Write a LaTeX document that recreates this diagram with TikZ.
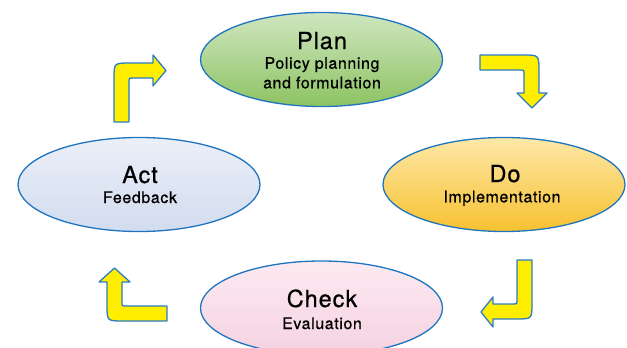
\documentclass[tikz,border=0pt]{standalone}
\usepackage{fontspec}
\setmainfont{TeX Gyre Heros}
\newfontfamily\titlefont[FakeBold=0.6,LetterSpace=4]{TeX Gyre Heros}
\newfontfamily\subfont[FakeBold=0.7,LetterSpace=4]{TeX Gyre Heros}
\usetikzlibrary{shapes.geometric}
\definecolor{edgeblue}{HTML}{1F74C0}
\definecolor{arrowblue}{HTML}{2C7CC6}
\definecolor{arrowyellow}{HTML}{FFEE00}
\definecolor{planTop}{HTML}{CFE6C0}
\definecolor{planBot}{HTML}{8DC363}
\definecolor{doTop}{HTML}{FDE8A8}
\definecolor{doBot}{HTML}{F7C130}
\definecolor{actTop}{HTML}{EBEFF8}
\definecolor{actBot}{HTML}{D2DCEF}
\definecolor{checkTop}{HTML}{FCEAF1}
\definecolor{checkBot}{HTML}{F5D2E1}
\begin{document}
\begin{tikzpicture}[x=1pt,y=-1pt,
  phase/.style={ellipse,draw=edgeblue,line width=1.3pt,minimum width=242pt,minimum height=94pt,inner sep=0pt},
  titletext/.style={anchor=base,inner sep=0pt,font=\titlefont\fontsize{23.5}{28}\selectfont},
  subtext/.style={anchor=base,inner sep=0pt,font=\subfont\fontsize{15.9}{18}\selectfont},
  bent/.style={fill=arrowyellow,draw=arrowblue,line width=1.3pt,line join=round}]
\useasboundingbox (0,0) rectangle (627,348);
\clip (0,0) rectangle (627,348);

% ellipses
\node[phase,top color=planTop,bottom color=planBot] (plan) at (321.5,59.5) {};
\node[phase,top color=doTop,bottom color=doBot] (do) at (504,184.5) {};
\node[phase,top color=actTop,bottom color=actBot] (act) at (139,184.5) {};
\node[phase,top color=checkTop,bottom color=checkBot] (check) at (321.5,308) {};

% texts
\node[titletext] (planT) at (322,49) {Plan};
\node[subtext] (planS1) at (322,68.7) {Policy planning};
\node[subtext] (planS2) at (322,88.3) {and formulation};
\node[titletext] (doT) at (505,182) {Do};
\node[subtext] (doS) at (502,202.3) {Implementation};
\node[titletext] (actT) at (140,183) {Act};
\node[subtext] (actS) at (140,203) {Feedback};
\node[titletext] (checkT) at (322,307) {Check};
\node[subtext] (checkS) at (322,329) {Evaluation};

% bent arrows
% top-left (Act -> Plan)
\draw[bent] (114,122) -- (114,79) .. controls (114,63) .. (130,63) -- (153,63) -- (153,55)
  -- (166,70.5) -- (153,86) -- (153,78) -- (132,78) .. controls (129,78) .. (129,81) -- (129,122) -- cycle;
% top-right (Plan -> Do)
\draw[bent] (480,55) -- (523,55) .. controls (539,55) .. (539,71) -- (539,93) -- (547,93)
  -- (532,108) -- (517,93) -- (524,93) -- (524,73) .. controls (524,70) .. (521,70) -- (480,70) -- cycle;
% bottom-right (Do -> Check)
\draw[bent] (517,260) -- (532,260) -- (532,303) .. controls (532,319) .. (516,319) -- (493,319)
  -- (493,327) -- (481,312) -- (493,297) -- (493,304) -- (514,304) .. controls (517,304) .. (517,301) -- cycle;
% bottom-left (Check -> Act)
\draw[bent] (167,306) -- (125,306) .. controls (122,306) .. (122,303) -- (122,282) -- (130,282)
  -- (114.5,268) -- (99,282) -- (107,282) -- (107,305) .. controls (107,321) .. (123,321) -- (167,321) -- cycle;
\end{tikzpicture}
\end{document}
